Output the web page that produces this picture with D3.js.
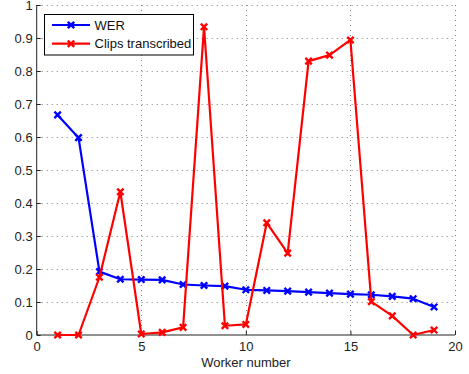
<!DOCTYPE html>
<html>
<head>
<meta charset="utf-8">
<script src="https://cdn.jsdelivr.net/npm/d3@7"></script>
<style>
  html, body { margin: 0; padding: 0; background: #fff; }
  svg { display: block; font-family: "Liberation Sans", Arial, sans-serif; }
</style>
</head>
<body>
<svg id="chart" width="469" height="374"></svg>
<script>
// Worker indices and per-worker measurements
const workers = [1, 2, 3, 4, 5, 6, 7, 8, 9, 10, 11, 12, 13, 14, 15, 16, 17, 18, 19];
const werValues = [0.667, 0.598, 0.192, 0.169, 0.168, 0.167, 0.153, 0.150, 0.148, 0.137,
                   0.135, 0.133, 0.130, 0.127, 0.124, 0.122, 0.117, 0.110, 0.085];
const clipsValues = [0.0, 0.0, 0.175, 0.434, 0.003, 0.008, 0.023, 0.934, 0.028, 0.032,
                     0.340, 0.248, 0.830, 0.848, 0.894, 0.101, 0.058, 0.0, 0.015];
const xTicks = [0, 5, 10, 15, 20];
const yTicks = [0, 0.1, 0.2, 0.3, 0.4, 0.5, 0.6, 0.7, 0.8, 0.9, 1];
const seriesNames = ["WER", "Clips transcribed"];
const seriesColors = ["#0000ff", "#ff0000"];
const xLabel = "Worker number";

const svg = d3.select("#chart");
const plotLeft = 36.7, plotRight = 455, plotTop = 5, plotBottom = 335;

const x = d3.scaleLinear().domain([0, 20]).range([plotLeft, plotRight]);
const y = d3.scaleLinear().domain([0, 1]).range([plotBottom, plotTop]);

// Dotted grid
const grid = svg.append("g").attr("stroke", "#555").attr("stroke-width", 1)
  .attr("stroke-dasharray", "1,4").attr("opacity", 0.75);
grid.selectAll("line.gx").data(xTicks.slice(1)).join("line")
  .attr("x1", d => Math.round(x(d)) + 0.5).attr("x2", d => Math.round(x(d)) + 0.5)
  .attr("y1", plotTop).attr("y2", plotBottom);
grid.selectAll("line.gy").data(yTicks.slice(1)).join("line")
  .attr("y1", d => Math.round(y(d)) + 0.5).attr("y2", d => Math.round(y(d)) + 0.5)
  .attr("x1", plotLeft).attr("x2", plotRight);

// Axes with inward ticks
const xAxis = d3.axisBottom(x).tickValues(xTicks).tickSize(-4).tickPadding(7).tickFormat(d3.format("d"));
const yAxis = d3.axisLeft(y).tickValues(yTicks).tickSize(-4).tickPadding(4)
  .tickFormat(d => d === 0 ? "0" : d === 1 ? "1" : d3.format(".1f")(d));

const gx = svg.append("g").attr("transform", `translate(0,${plotBottom})`).call(xAxis);
const gy = svg.append("g").attr("transform", `translate(${plotLeft},0)`).call(yAxis);
[gx, gy].forEach(g => {
  g.select(".domain").attr("stroke", "#222").attr("stroke-width", 1);
  g.selectAll(".tick line").attr("stroke", "#222");
  g.selectAll(".tick text").attr("fill", "#222").attr("font-size", 13)
    .attr("font-family", "Liberation Sans, Arial, sans-serif");
});
gy.selectAll(".tick text").attr("dy", "0.36em");
gy.select(".domain").attr("d", `M0,${plotBottom}V${plotTop}`);
gx.select(".domain").attr("d", `M${plotLeft},0H${plotRight}`);

svg.append("text").attr("x", x(10)).attr("y", 366.5).attr("text-anchor", "middle")
  .attr("font-size", 13).attr("fill", "#222").text(xLabel);

// Series lines with x markers
const series = [werValues, clipsValues];
const line = d3.line().x((d, i) => x(workers[i])).y(d => y(d));

function xMarker(g, cx, cy, color) {
  const s = 3.2;
  g.append("path")
    .attr("d", `M${cx - s},${cy - s}L${cx + s},${cy + s}M${cx - s},${cy + s}L${cx + s},${cy - s}`)
    .attr("stroke", color).attr("stroke-width", 2.4).attr("fill", "none");
}

series.forEach((vals, k) => {
  const g = svg.append("g");
  g.append("path").datum(vals).attr("d", line).attr("fill", "none")
    .attr("stroke", seriesColors[k]).attr("stroke-width", 2.2).attr("stroke-linejoin", "round");
  vals.forEach((v, i) => xMarker(g, x(workers[i]), y(v), seriesColors[k]));
});

// Legend
const lg = svg.append("g");
lg.append("rect").attr("x", 44.5).attr("y", 14.5).attr("width", 149).attr("height", 40.5)
  .attr("fill", "#fff").attr("stroke", "#000").attr("stroke-width", 1);
seriesNames.forEach((name, k) => {
  const ly = 25 + k * 18.7;
  lg.append("line").attr("x1", 52).attr("x2", 90).attr("y1", ly).attr("y2", ly)
    .attr("stroke", seriesColors[k]).attr("stroke-width", 2.2);
  xMarker(lg, 71, ly, seriesColors[k]);
  lg.append("text").attr("x", 94.5).attr("y", ly + 4.5).attr("font-size", 13)
    .attr("fill", "#111").text(name);
});
</script>
</body>
</html>
